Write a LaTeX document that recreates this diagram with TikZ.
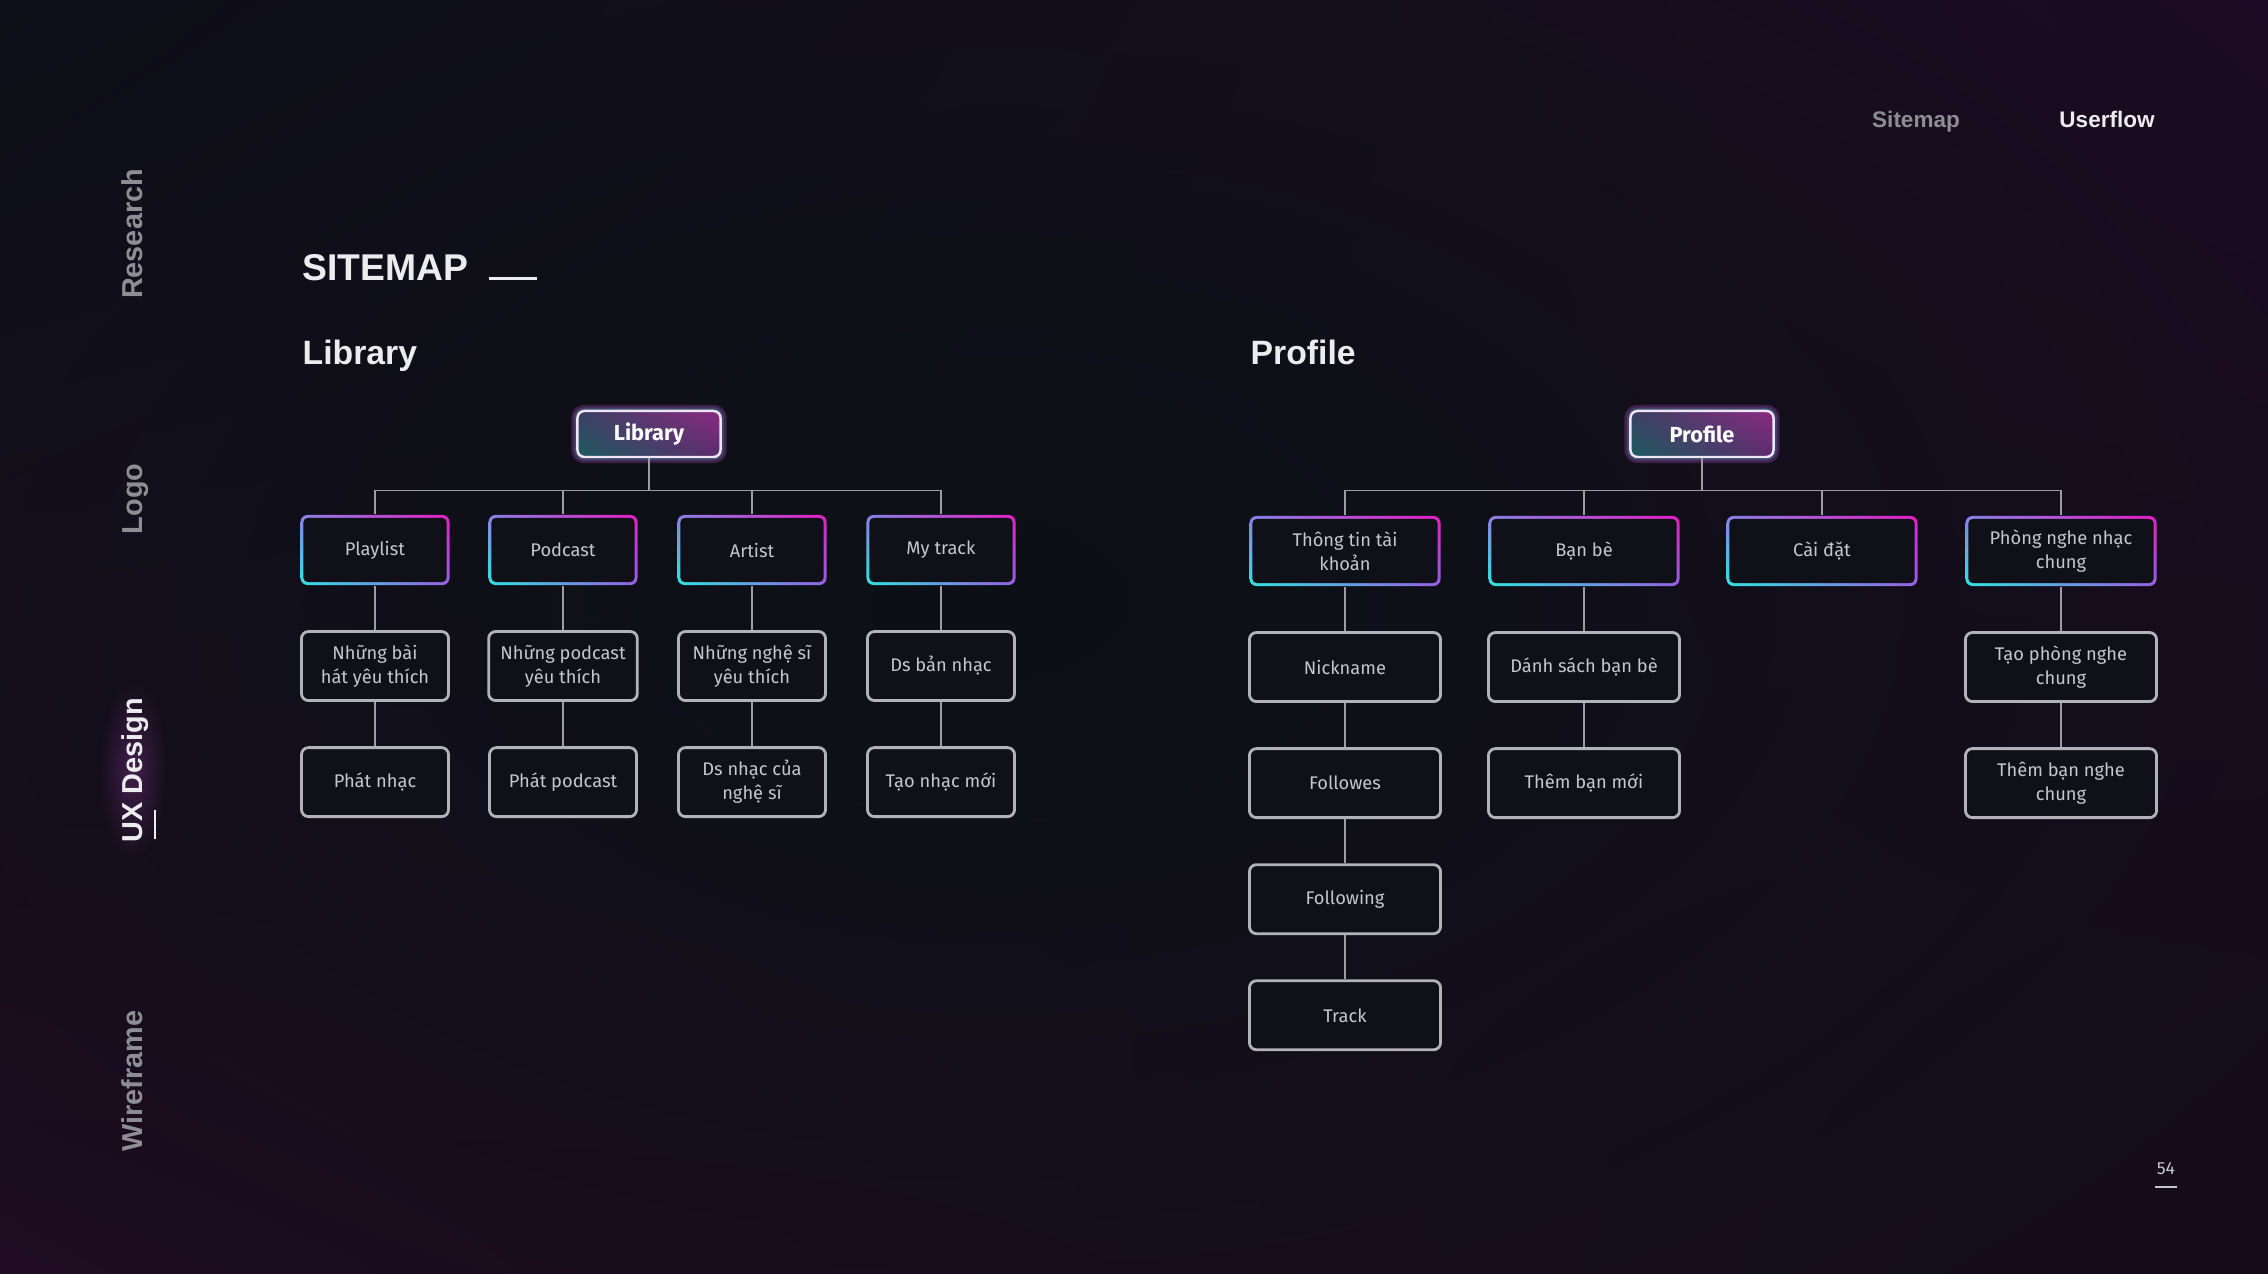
\documentclass[tikz,border=0pt]{standalone}
\usepackage{fontspec}
\usepackage{xcolor}
\usepackage{tikz}
\usetikzlibrary{fadings,shadings}
\setmainfont{Fira Sans}
\newfontfamily\headfont{Liberation Sans}

\definecolor{bgmid}{HTML}{0C1116}
\definecolor{bgtl}{HTML}{0F0F19}
\definecolor{bgtr}{HTML}{200A26}
\definecolor{bgbl}{HTML}{240B25}
\definecolor{bgbr}{HTML}{150C1A}
\definecolor{boxfill}{HTML}{0F1018}
\definecolor{boxedge}{HTML}{B2B2BA}
\definecolor{boxtext}{HTML}{C6C6CE}
\definecolor{linegray}{HTML}{9C9CA4}
\definecolor{headwhite}{HTML}{ECECEF}
\definecolor{sidegray}{HTML}{8D8D93}
\definecolor{gtl}{HTML}{8A80E6}
\definecolor{gtr}{HTML}{E41EC4}
\definecolor{gbl}{HTML}{2EE4E0}
\definecolor{gbr}{HTML}{9560E4}
\definecolor{rtl}{HTML}{3B3F62}
\definecolor{rtr}{HTML}{8C2A82}
\definecolor{rbl}{HTML}{1C5C60}
\definecolor{rbr}{HTML}{5B2C6C}
\definecolor{rootedge}{HTML}{EEE6F6}
\definecolor{glowpink}{HTML}{D050E0}
\definecolor{glowcyan}{HTML}{40D8E0}

\tikzfading[name=softfade, inner color=transparent!0, outer color=transparent!100]

\begin{document}
\begin{tikzpicture}[x=0.01cm, y=-0.01cm, node distance=1.16cm,
    every node/.style={font=\fontsize{5.2}{6.8}\selectfont, text=boxtext, align=center},
    plainbox/.style={rectangle, rounded corners=2pt, minimum width=1.47cm, minimum height=0.69cm, fill=boxfill, draw=boxedge, line width=0.8pt},
    gradbox/.style={rectangle, rounded corners=2pt, minimum width=1.49cm, minimum height=0.70cm,
        path picture={
            \shade[upper left=gtl, upper right=gtr, lower left=gbl, lower right=gbr] (path picture bounding box.south west) rectangle (path picture bounding box.north east);
            \fill[boxfill, rounded corners=1.2pt] ([shift={(0.85pt,0.85pt)}]path picture bounding box.south west) rectangle ([shift={(-0.85pt,-0.85pt)}]path picture bounding box.north east);
        }},
    wide/.style={minimum width=1.91cm},
    rootbox/.style={rectangle, rounded corners=2pt, minimum width=1.43cm, minimum height=0.46cm, draw=rootedge, line width=0.7pt, text=white,
        font=\bfseries\fontsize{6.2}{7}\selectfont,
        preaction={draw=glowpink, draw opacity=0.25, line width=3.5pt},
        preaction={draw=glowcyan, draw opacity=0.2, line width=2pt},
        path picture={
            \shade[upper left=rtl, upper right=rtr, lower left=rbl, lower right=rbr] (path picture bounding box.south west) rectangle (path picture bounding box.north east);
        }},
    conn/.style={draw=linegray, line width=0.4pt},
    title/.style={font=\headfont\bfseries\fontsize{10.6}{12}\selectfont, text=headwhite, inner sep=0pt, anchor=base west},
    heading/.style={font=\headfont\bfseries\fontsize{9.6}{11}\selectfont, text=headwhite, inner sep=0pt, anchor=base west},
    side/.style={font=\headfont\bfseries\fontsize{8.2}{10}\selectfont, text=sidegray, rotate=90, inner sep=0pt, anchor=base},
    nav/.style={font=\headfont\bfseries\fontsize{6.4}{8}\selectfont, inner sep=0pt, anchor=base}]

    % background
    \useasboundingbox (0,0) rectangle (2268,1274);
    \begin{scope}
        \clip (0,0) rectangle (2268,1274);
        \shade[upper left=bgtl, upper right=bgtr, lower left=bgbl, lower right=bgbr] (0,0) rectangle (2268,1274);
        \fill[bgmid, path fading=softfade] (1000,600) ellipse (1800 and 1100);
        \fill[glowpink, path fading=softfade, fill opacity=0.25] (133,770) ellipse (34 and 90);
    \end{scope}

    % side menu
    \node (research) [side] at (143,234) {Research};
    \node (logo) [side] at (143,499) {Logo};
    \node (uxdesign) [side, text=headwhite] at (143,770) {UX Design};
    \node (wireframe) [side] at (143,1081) {Wireframe};
    \draw[headwhite, line width=0.5pt] (155,810) -- (155,839);

    % top menu
    \node (navsitemap) [nav, text=sidegray] at (1916,128) {Sitemap};
    \node (navuserflow) [nav, text=headwhite] at (2107,128) {Userflow};

    % titles
    \node (sitemap) [title] at (302,281) {SITEMAP};
    \draw[headwhite, line width=0.8pt] ([xshift=0.2cm, yshift=0.6pt]sitemap.base east) -- ++(48,0);
    \node (libtitle) [heading] at (302,365) {Library};
    \node (protitle) [heading] at (1250,365) {Profile};

    % Library tree
    \node (lib) [rootbox] at (649,434) {Library};
    \node (pl) [gradbox] at (375,550) {Playlist};
    \node (pc) [gradbox] at (563,550) {Podcast};
    \node (ar) [gradbox] at (752,550) {Artist};
    \node (mt) [gradbox] at (941,550) {My track};
    \node (plfav) [plainbox, below of=pl] {Những bài\\hát yêu thích};
    \node (plplay) [plainbox, below of=plfav] {Phát nhạc};
    \node (pcfav) [plainbox, below of=pc] {Những podcast\\yêu thích};
    \node (pcplay) [plainbox, below of=pcfav] {Phát podcast};
    \node (arfav) [plainbox, below of=ar] {Những nghệ sĩ\\yêu thích};
    \node (arlist) [plainbox, below of=arfav] {Ds nhạc của\\nghệ sĩ};
    \node (mtlist) [plainbox, below of=mt] {Ds bản nhạc};
    \node (mtnew) [plainbox, below of=mtlist] {Tạo nhạc mới};

    \draw[conn] (lib.south) -- ++(0,32) -| (pl.north);
    \draw[conn] (lib.south) -- ++(0,32) -| (pc.north);
    \draw[conn] (lib.south) -- ++(0,32) -| (ar.north);
    \draw[conn] (lib.south) -- ++(0,32) -| (mt.north);
    \draw[conn] (pl) -- (plfav);
    \draw[conn] (plfav) -- (plplay);
    \draw[conn] (pc) -- (pcfav);
    \draw[conn] (pcfav) -- (pcplay);
    \draw[conn] (ar) -- (arfav);
    \draw[conn] (arfav) -- (arlist);
    \draw[conn] (mt) -- (mtlist);
    \draw[conn] (mtlist) -- (mtnew);

    % Profile tree
    \node (pro) [rootbox] at (1702,434) {Profile};
    \node (acc) [gradbox, wide] at (1345,551) {Thông tin tài\\khoản};
    \node (fr) [gradbox, wide] at (1584,551) {Bạn bè};
    \node (set) [gradbox, wide] at (1822,551) {Cài đặt};
    \node (room) [gradbox, wide] at (2061,551) {Phòng nghe nhạc\\chung};
    \node (nick) [plainbox, wide, below of=acc] {Nickname};
    \node (flw) [plainbox, wide, below of=nick] {Followes};
    \node (flg) [plainbox, wide, below of=flw] {Following};
    \node (trk) [plainbox, wide, below of=flg] {Track};
    \node (frlist) [plainbox, wide, below of=fr] {Dánh sách bạn bè};
    \node (fradd) [plainbox, wide, below of=frlist] {Thêm bạn mới};
    \node (roomnew) [plainbox, wide, below of=room] {Tạo phòng nghe\\chung};
    \node (roomadd) [plainbox, wide, below of=roomnew] {Thêm bạn nghe\\chung};

    \draw[conn] (pro.south) -- ++(0,32) -| (acc.north);
    \draw[conn] (pro.south) -- ++(0,32) -| (fr.north);
    \draw[conn] (pro.south) -- ++(0,32) -| (set.north);
    \draw[conn] (pro.south) -- ++(0,32) -| (room.north);
    \draw[conn] (acc) -- (nick);
    \draw[conn] (nick) -- (flw);
    \draw[conn] (flw) -- (flg);
    \draw[conn] (flg) -- (trk);
    \draw[conn] (fr) -- (frlist);
    \draw[conn] (frlist) -- (fradd);
    \draw[conn] (room) -- (roomnew);
    \draw[conn] (roomnew) -- (roomadd);

    % page number
    \node (page) [font=\fontsize{5}{6}\selectfont, inner sep=0pt, anchor=base] at (2166,1175) {54};
    \draw[boxtext, line width=0.5pt] (2155,1187) -- (2177,1187);
\end{tikzpicture}
\end{document}
